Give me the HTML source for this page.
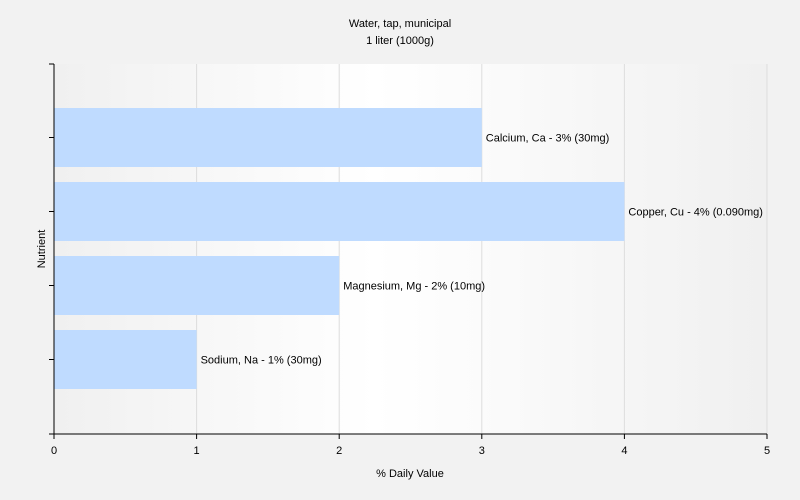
<!DOCTYPE html>
<html><head><meta charset="utf-8"><style>
body{margin:0;background:#f2f2f2;font-family:"Liberation Sans",sans-serif;}
svg{display:block}
text{font-family:"Liberation Sans",sans-serif;font-size:11px;fill:#000}
</style></head><body>
<svg width="800" height="500">
<defs><linearGradient id="bg" x1="0" x2="1" y1="0" y2="0">
<stop offset="0" stop-color="#f0f0f0"/><stop offset="0.45" stop-color="#ffffff"/><stop offset="1" stop-color="#f0f0f0"/></linearGradient></defs>
<text x="400" y="27" text-anchor="middle" font-size="12">Water, tap, municipal</text>
<text x="400" y="44" text-anchor="middle" font-size="12">1 liter (1000g)</text>
<rect x="54" y="64" width="713" height="370" fill="url(#bg)"/>
<g id="grid"></g><g id="bars"></g><g id="axes"></g>
<text x="410" y="477" text-anchor="middle">% Daily Value</text>
<text transform="translate(45,249) rotate(-90)" text-anchor="middle" font-size="10">Nutrient</text>
</svg>
<script>
const categories=["Calcium, Ca","Copper, Cu","Magnesium, Mg","Sodium, Na"];
const values=[3,4,2,1];
const labels=["Calcium, Ca - 3% (30mg)","Copper, Cu - 4% (0.090mg)","Magnesium, Mg - 2% (10mg)","Sodium, Na - 1% (30mg)"];
const xTicks=[0,1,2,3,4,5];
const NS="http://www.w3.org/2000/svg";
const x0=54,x1=767,y0=64,y1=434;
const xs=v=>x0+(v/5)*(x1-x0);
const band=74;
const yc=i=>137.5+i*band;
function mk(t,a,p){const e=document.createElementNS(NS,t);for(const k in a)e.setAttribute(k,a[k]);p.appendChild(e);return e;}
const grid=document.getElementById('grid'),bars=document.getElementById('bars'),axes=document.getElementById('axes');
xTicks.forEach(t=>{if(t>0){const g=mk('line',{x1:xs(t),x2:xs(t),y1:y0,y2:y1,stroke:'#dddddd'},grid);

}
const tk=mk('line',{x1:xs(t),x2:xs(t),y1:y1,y2:y1+5,stroke:'#000'},axes);


const tl=mk('text',{x:xs(t),y:454,'text-anchor':'middle','font-size':'13'},axes);tl.textContent=t;

});
values.forEach((v,i)=>{const r=mk('rect',{x:x0,y:yc(i)-29.5,width:xs(v)-x0,height:59,fill:'#bfdbff'},bars);


const l=mk('text',{x:xs(v)+4,y:yc(i)+4},bars);l.textContent=labels[i];
if(xs(v)+4+l.getComputedTextLength()>x1){l.setAttribute('x',xs(v)-4);l.setAttribute('text-anchor','end');}


const tk=mk('line',{x1:x0-5,x2:x0,y1:yc(i),y2:yc(i),stroke:'#000'},axes);

});
[y0,y1].forEach(y=>{const t=mk('line',{x1:x0-5,x2:x0,y1:y,y2:y,stroke:'#000'},axes);

});
const ya=mk('line',{x1:x0,x2:x0,y1:y0,y2:y1,stroke:'#000'},axes);


const xa=mk('line',{x1:x0-5,x2:x1,y1:y1,y2:y1,stroke:'#000'},axes);


</script>
</body></html>
